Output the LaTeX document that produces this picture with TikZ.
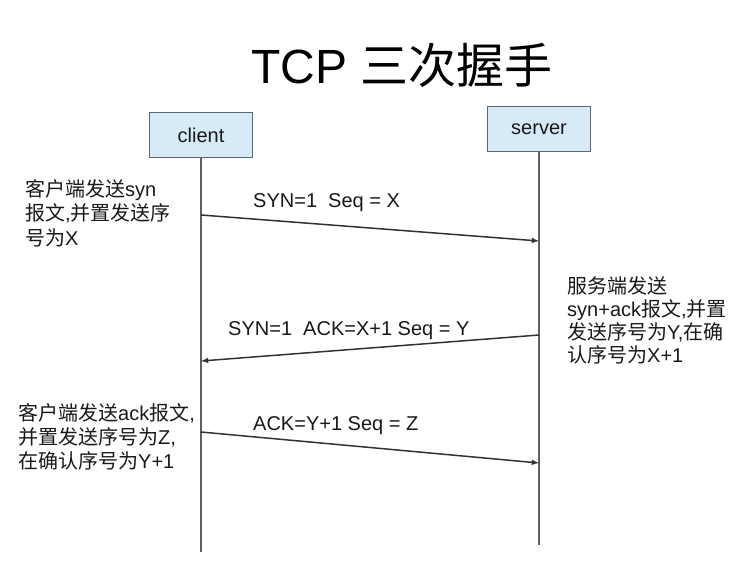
\documentclass[tikz,border=0pt]{standalone}
\usepackage{fontspec}
\setmainfont{Liberation Sans}
\newfontfamily\cjk{Noto Sans CJK SC}
\usetikzlibrary{arrows}
\tikzset{>=latex}
\definecolor{boxColour}{RGB}{214,234,248}
\definecolor{boxLineColour}{RGB}{95,105,115}
\definecolor{lifeColour}{RGB}{95,95,95}
\definecolor{msgColour}{RGB}{50,50,50}
\definecolor{textColour}{RGB}{25,25,25}

\tikzset{
	actor/.style={draw=boxLineColour, line width=1.6pt, fill=boxColour, minimum width=103pt, minimum height=45pt, inner sep=0pt, font=\fontsize{20}{24}\selectfont, text=textColour},
	lifeline/.style={draw=lifeColour, line width=2.4pt},
	message/.style={draw=msgColour, line width=1.5pt, ->},
	msglabel/.style={anchor=base west, inner sep=0pt, font=\fontsize{20}{24}\selectfont, text=textColour},
	note/.style={anchor=base west, align=left, inner sep=0pt, text=textColour}
}

\begin{document}
\begin{tikzpicture}[x=1pt, y=-1pt]
		\useasboundingbox (0, 0) rectangle (731, 575);

		% the title
		\node[anchor=base, font=\fontsize{48}{48}\selectfont] (title) at (402, 84) {TCP {\cjk 三次握手}};

		% the two ends
		\node[actor] (client) at (201, 135) {client};
		\node[actor] (server) at (539, 129) {server};

		% the lifelines
		\coordinate (clientEnd) at (201, 552);
		\coordinate (serverEnd) at (539, 545);
		\draw[lifeline] (client.south) -- (clientEnd);
		\draw[lifeline] (server.south) -- (serverEnd);

		% the messages
		\coordinate (c1) at (201, 215);
		\coordinate (s1) at (539, 241);
		\coordinate (s2) at (539, 335);
		\coordinate (c2) at (201, 361);
		\coordinate (c3) at (201, 432);
		\coordinate (s3) at (539, 463);
		\draw[message] (c1) -- (s1);
		\draw[message] (s2) -- (c2);
		\draw[message] (c3) -- (s3);
		\node[msglabel] (syn) at (253, 207) {SYN=1\ \ Seq = X};
		\node[msglabel] (synack) at (228, 335) {SYN=1\ \ ACK=X+1 Seq = Y};
		\node[msglabel] (ack) at (253, 430) {ACK=Y+1 Seq = Z};

		% the text (anchored at the last line)
		\node[note, font=\fontsize{20}{24.5}\selectfont] (clientNote1) at (25, 245) {{\cjk 客户端发送}syn\\{\cjk 报文},{\cjk 并置发送序}\\{\cjk 号为}X};
		\node[note, font=\fontsize{20}{23}\selectfont] (serverNote) at (567, 362) {{\cjk 服务端发送}\\syn+ack{\cjk 报文},{\cjk 并置}\\{\cjk 发送序号为}Y,{\cjk 在确}\\{\cjk 认序号为}X+1};
		\node[note, font=\fontsize{20}{24}\selectfont] (clientNote2) at (18, 468) {{\cjk 客户端发送}ack{\cjk 报文},\\{\cjk 并置发送序号为}Z,\\{\cjk 在确认序号为}Y+1};
	\end{tikzpicture}
\end{document}
